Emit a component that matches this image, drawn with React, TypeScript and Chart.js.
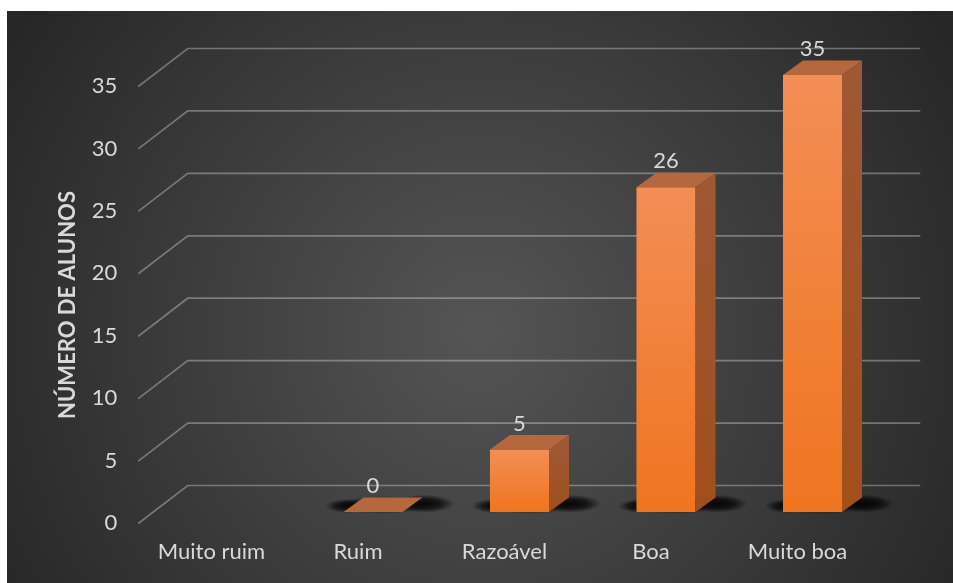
import React, { useEffect, useRef } from 'react';
import { Chart, registerables } from 'chart.js';

Chart.register(...registerables);

// ---- data ----
const categories: string[] = ['Muito ruim', 'Ruim', 'Razoável', 'Boa', 'Muito boa'];
const values: (number | null)[] = [null, 0, 5, 26, 35];
const yMin = 0;
const yMax = 35;
const yStep = 5;
const yTitle = 'NÚMERO DE ALUNOS';

// ---- styling / geometry ----
const FONT = 'Lato, "Open Sans", sans-serif';
const TEXT = '#d9d9d9';
const BAR_DX = 20;
const BAR_DY = -14.5;
const BACK = { dx: 34.5, dy: -26.5 };
const FRONT = { dx: -15, dy: 11.5 };

function softEllipse(ctx: CanvasRenderingContext2D, cx: number, cy: number, rx: number, ry: number, alpha: number) {
  ctx.save();
  ctx.translate(cx, cy);
  ctx.scale(1, ry / rx);
  const g = ctx.createRadialGradient(0, 0, 0, 0, 0, rx);
  g.addColorStop(0, `rgba(0,0,0,${alpha})`);
  g.addColorStop(0.55, `rgba(0,0,0,${alpha * 0.75})`);
  g.addColorStop(1, 'rgba(0,0,0,0)');
  ctx.fillStyle = g;
  ctx.beginPath();
  ctx.arc(0, 0, rx, 0, Math.PI * 2);
  ctx.fill();
  ctx.restore();
}

const pseudo3d = {
  id: 'pseudo3d',
  beforeDraw(chart: any) {
    const { ctx, width, height } = chart;
    const cx = width * 0.5;
    const cy = height * 0.56;
    const g = ctx.createRadialGradient(cx, cy, 0, cx, cy, width * 0.62);
    g.addColorStop(0, '#555555');
    g.addColorStop(1, '#242424');
    ctx.save();
    ctx.fillStyle = g;
    ctx.fillRect(0, 0, width, height);
    ctx.restore();
  },
  beforeDatasetsDraw(chart: any) {
    const { ctx, chartArea: a, scales } = chart;
    const y = scales.y;
    ctx.save();
    ctx.strokeStyle = 'rgba(255,255,255,0.32)';
    ctx.lineWidth = 1.7;
    y.ticks.forEach((t: any) => {
      const py = y.getPixelForValue(t.value);
      ctx.beginPath();
      ctx.moveTo(a.left + FRONT.dx, py + FRONT.dy);
      ctx.lineTo(a.left + BACK.dx, py + BACK.dy);
      ctx.lineTo(a.right + BACK.dx, py + BACK.dy);
      ctx.stroke();
    });
    ctx.restore();
    // floor shadows
    const meta = chart.getDatasetMeta(0);
    const data = chart.data.datasets[0].data;
    meta.data.forEach((bar: any, i: number) => {
      if (data[i] == null) return;
      const { x, base, width } = bar.getProps(['x', 'base', 'width'], true);
      const xl = x - width / 2;
      const xr = x + width / 2;
      softEllipse(ctx, xl + 4, base - 6, 22, 7, 0.85);
      softEllipse(ctx, xr + BAR_DX + 2, base + BAR_DY / 2 - 1, 30, 9, 0.9);
      softEllipse(ctx, x + BAR_DX / 2, base - 7, width / 2 + 16, 9, 0.7);
    });
  },
  afterDatasetsDraw(chart: any) {
    const { ctx } = chart;
    const meta = chart.getDatasetMeta(0);
    const data = chart.data.datasets[0].data;
    ctx.save();
    meta.data.forEach((bar: any, i: number) => {
      const v = data[i];
      if (v == null) return;
      const { x, y: top, base, width } = bar.getProps(['x', 'y', 'base', 'width'], true);
      const xl = x - width / 2;
      const xr = x + width / 2;
      // side face
      if (base - top > 0.5) {
        const gs = ctx.createLinearGradient(0, top, 0, base);
        gs.addColorStop(0, '#9e5833');
        gs.addColorStop(1, '#a14f1c');
        ctx.fillStyle = gs;
        ctx.beginPath();
        ctx.moveTo(xr, top);
        ctx.lineTo(xr + BAR_DX, top + BAR_DY);
        ctx.lineTo(xr + BAR_DX, base + BAR_DY);
        ctx.lineTo(xr, base);
        ctx.closePath();
        ctx.fill();
      }
      // top face
      ctx.fillStyle = '#b5683d';
      ctx.beginPath();
      ctx.moveTo(xl, top);
      ctx.lineTo(xr, top);
      ctx.lineTo(xr + BAR_DX, top + BAR_DY);
      ctx.lineTo(xl + BAR_DX, top + BAR_DY);
      ctx.closePath();
      ctx.fill();
      // value label
      ctx.fillStyle = TEXT;
      ctx.font = `22px ${FONT}`;
      ctx.textAlign = 'center';
      ctx.textBaseline = 'middle';
      ctx.fillText(String(v), x, top - 26);
    });
    ctx.restore();
  },
  afterDraw(chart: any) {
    const { ctx } = chart;
    ctx.save();
    ctx.translate(61, 294);
    ctx.rotate(-Math.PI / 2);
    ctx.fillStyle = TEXT;
    ctx.font = `bold 22px ${FONT}`;
    ctx.textAlign = 'center';
    ctx.textBaseline = 'middle';
    ctx.fillText(yTitle, 0, 0);
    ctx.restore();
  },
};

export default function App() {
  const ref = useRef<HTMLCanvasElement | null>(null);
  useEffect(() => {
    if (!ref.current) return;
    const chart = new Chart(ref.current, {
      type: 'bar',
      data: {
        labels: categories,
        datasets: [
          {
            data: values,
            clip: false as any,
            categoryPercentage: 1,
            barPercentage: 0.403,
            borderWidth: 0,
            backgroundColor: (c: any) => {
              const ch = c.chart;
              const v = c.raw;
              if (!ch.chartArea || v == null || !ch.scales.y) return '#f07c2a';
              const y = ch.scales.y;
              const top = y.getPixelForValue(v);
              const base = y.getPixelForValue(0);
              if (!(base - top > 1)) return '#f07c2a';
              const g = ch.ctx.createLinearGradient(0, top, 0, base);
              g.addColorStop(0, '#f38e55');
              g.addColorStop(1, '#ef7520');
              return g;
            },
          },
        ],
      },
      options: {
        animation: false,
        responsive: false,
        layout: { padding: { left: 0, right: 67.25, top: 64, bottom: 0 } },
        plugins: {
          legend: { display: false },
          tooltip: { enabled: false },
          title: { display: false },
        },
        scales: {
          x: {
            grid: { display: false, drawTicks: false },
            border: { display: false },
            ticks: {
              color: TEXT,
              font: { family: FONT, size: 22 },
              padding: 27,
              labelOffset: -15,
              maxRotation: 0,
              autoSkip: false,
            },
            afterFit: (s: any) => {
              s.height = 71;
            },
          },
          y: {
            min: yMin,
            max: yMax,
            grid: { display: false, drawTicks: false },
            border: { display: false },
            ticks: {
              stepSize: yStep,
              color: TEXT,
              font: { family: FONT, size: 22 },
              padding: 36,
              labelOffset: 11,
            },
            afterFit: (s: any) => {
              s.width = 146.25;
            },
          },
        },
      },
      plugins: [pseudo3d],
    });
    return () => chart.destroy();
  }, []);
  return (
    <div style={{ position: 'fixed', left: 7, top: 11, width: 946, height: 572 }}>
      <canvas ref={ref} width={946} height={572} style={{ width: 946, height: 572, display: 'block' }} />
    </div>
  );
}
